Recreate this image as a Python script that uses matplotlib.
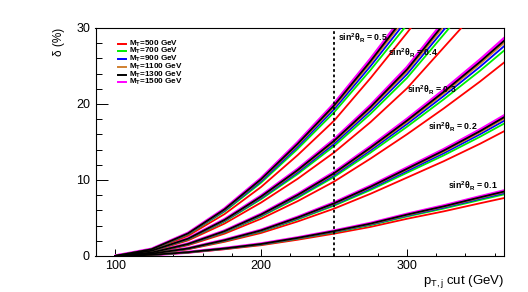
import matplotlib
matplotlib.use("Agg")
import matplotlib.pyplot as plt
from matplotlib.lines import Line2D
from matplotlib.ticker import MultipleLocator

plt.rcParams['font.family'] = ['Liberation Sans', 'DejaVu Sans']
plt.rcParams['mathtext.fontset'] = 'custom'
plt.rcParams['mathtext.rm'] = 'Liberation Sans'
plt.rcParams['mathtext.it'] = 'Liberation Sans:italic'
plt.rcParams['mathtext.bf'] = 'Liberation Sans:bold'

# ---------------- data ----------------
pt_cut = [100, 125, 150, 175, 200, 225, 250, 275, 300, 325, 350, 367]

masses = ["500", "700", "900", "1100", "1300", "1500"]
mass_colors = ["#ff0000", "#00ee00", "#0000ff", "#d08030", "#000000", "#ff00ff"]

sin2_labels = ["0.1", "0.2", "0.3", "0.4", "0.5"]

# delta (%) for sin^2 theta_R = 0.1, per mass
d01_500  = [0, 0.13, 0.45, 0.89, 1.42, 2.14, 2.94, 3.83, 4.90, 5.87, 6.94, 7.65]
d01_700  = [0, 0.14, 0.47, 0.95, 1.51, 2.27, 3.12, 4.06, 5.20, 6.24, 7.37, 8.13]
d01_900  = [0, 0.14, 0.48, 0.97, 1.54, 2.32, 3.18, 4.15, 5.31, 6.37, 7.53, 8.30]
d01_1100 = [0, 0.15, 0.49, 0.98, 1.57, 2.35, 3.23, 4.21, 5.39, 6.47, 7.64, 8.43]
d01_1300 = [0, 0.15, 0.50, 0.99, 1.58, 2.38, 3.27, 4.26, 5.45, 6.53, 7.72, 8.51]
d01_1500 = [0, 0.15, 0.50, 1.00, 1.60, 2.40, 3.30, 4.30, 5.50, 6.60, 7.80, 8.60]

# sin^2 theta_R = 0.2
d02_500  = [0, 0.27, 0.89, 1.87, 3.03, 4.54, 6.23, 8.19, 10.32, 12.46, 14.77, 16.47]
d02_700  = [0, 0.28, 0.95, 1.98, 3.21, 4.82, 6.62, 8.69, 10.96, 13.23, 15.69, 17.48]
d02_900  = [0, 0.29, 0.97, 2.03, 3.28, 4.92, 6.76, 8.88, 11.19, 13.51, 16.02, 17.85]
d02_1100 = [0, 0.29, 0.98, 2.06, 3.33, 5.00, 6.86, 9.02, 11.37, 13.72, 16.27, 18.13]
d02_1300 = [0, 0.30, 0.99, 2.08, 3.37, 5.05, 6.93, 9.11, 11.48, 13.86, 16.43, 18.32]
d02_1500 = [0, 0.30, 1.00, 2.10, 3.40, 5.10, 7.00, 9.20, 11.60, 14.00, 16.60, 18.50]

# sin^2 theta_R = 0.3
d03_500  = [0, 0.40, 1.42, 2.94, 4.90, 7.21, 9.79, 12.82, 16.02, 19.40, 22.96, 25.54]
d03_700  = [0, 0.43, 1.51, 3.12, 5.20, 7.65, 10.40, 13.61, 17.01, 20.60, 24.38, 27.12]
d03_900  = [0, 0.43, 1.54, 3.18, 5.31, 7.82, 10.62, 13.90, 17.37, 21.04, 24.90, 27.70]
d03_1100 = [0, 0.44, 1.57, 3.23, 5.39, 7.94, 10.78, 14.11, 17.64, 21.36, 25.28, 28.13]
d03_1300 = [0, 0.45, 1.58, 3.27, 5.45, 8.02, 10.89, 14.26, 17.82, 21.58, 25.54, 28.41]
d03_1500 = [0, 0.45, 1.60, 3.30, 5.50, 8.10, 11.00, 14.40, 18.00, 21.80, 25.80, 28.70]

# sin^2 theta_R = 0.4
d04_500  = [0, 0.62, 2.05, 4.27, 7.03, 10.15, 13.62, 17.62, 22.07, 27.41, 32.75, 36.49]
d04_700  = [0, 0.66, 2.17, 4.54, 7.47, 10.77, 14.46, 18.71, 23.44, 29.11, 34.78, 38.75]
d04_900  = [0, 0.68, 2.22, 4.63, 7.62, 11.00, 14.76, 19.11, 23.93, 29.72, 35.51, 39.57]
d04_1100 = [0, 0.69, 2.25, 4.70, 7.74, 11.17, 14.99, 19.40, 24.30, 30.18, 36.06, 40.18]
d04_1300 = [0, 0.69, 2.28, 4.75, 7.82, 11.29, 15.15, 19.60, 24.55, 30.49, 36.43, 40.59]
d04_1500 = [0, 0.70, 2.30, 4.80, 7.90, 11.40, 15.30, 19.80, 24.80, 30.80, 36.80, 41.00]

# sin^2 theta_R = 0.5
d05_500  = [0, 0.80, 2.67, 5.52, 9.08, 13.26, 17.80, 23.41, 29.37, 35.60, 41.83, 46.28]
d05_700  = [0, 0.85, 2.84, 5.86, 9.64, 14.08, 18.90, 24.48, 30.43, 37.80, 44.42, 49.14]
d05_900  = [0, 0.87, 2.90, 5.98, 9.84, 14.38, 19.30, 24.99, 31.07, 38.60, 45.36, 50.18]
d05_1100 = [0, 0.88, 2.94, 6.08, 10.00, 14.60, 19.60, 25.38, 31.56, 39.20, 46.06, 50.96]
d05_1300 = [0, 0.89, 2.97, 6.14, 10.10, 14.75, 19.80, 25.64, 31.88, 39.60, 46.53, 51.48]
d05_1500 = [0, 0.90, 3.00, 6.20, 10.20, 14.90, 20.00, 25.90, 32.20, 40.00, 47.00, 52.00]

groups = [
    [d01_500, d01_700, d01_900, d01_1100, d01_1300, d01_1500],
    [d02_500, d02_700, d02_900, d02_1100, d02_1300, d02_1500],
    [d03_500, d03_700, d03_900, d03_1100, d03_1300, d03_1500],
    [d04_500, d04_700, d04_900, d04_1100, d04_1300, d04_1500],
    [d05_500, d05_700, d05_900, d05_1100, d05_1300, d05_1500],
]

cut_line = 250

# ---------------- figure ----------------
W, H = 528, 292
fig = plt.figure(figsize=(W / 100, H / 100), dpi=100)
L, R, T, B = 95.5, 504.0, 28.0, 256.0
ax = fig.add_axes([L / W, (H - B) / H, (R - L) / W, (B - T) / H])

for grp in groups:
    # magenta (1500) drawn first, slightly thicker, then the others
    ax.plot(pt_cut, grp[5], color=mass_colors[5], lw=2.3, solid_capstyle='butt', zorder=2)
    for i in range(5):
        ax.plot(pt_cut, grp[i], color=mass_colors[i], lw=1.3, zorder=3 + i)

ax.axvline(cut_line, color='black', lw=1.3, ls=(0, (1.5, 1.5)), zorder=10)

ax.set_xlim(86.6, 366.4)
ax.set_ylim(0, 30)
ax.xaxis.set_major_locator(MultipleLocator(100))
ax.xaxis.set_minor_locator(MultipleLocator(20))
ax.yaxis.set_major_locator(MultipleLocator(10))
ax.yaxis.set_minor_locator(MultipleLocator(2))
ax.tick_params(axis='x', which='major', direction='in', length=4.9, width=0.7, pad=3, labelsize=9)
ax.tick_params(axis='x', which='minor', direction='in', length=2.4, width=0.7)
ax.tick_params(axis='y', which='major', direction='in', length=8.8, width=0.7, pad=4, labelsize=9)
ax.tick_params(axis='y', which='minor', direction='in', length=4.4, width=0.7)
ax.tick_params(top=False, right=False, which='both')
for s in ax.spines.values():
    s.set_linewidth(0.8)

ax.set_xlabel(r"p$_{\mathrm{T,j}}$ cut (GeV)", fontsize=9.5, loc='right')
ax.xaxis.set_label_coords(1.0, -0.075)
ax.set_ylabel("δ (%)", fontsize=8.5, loc='top')
ax.yaxis.set_label_coords(-0.075, 1.0)

# legend (manual, ROOT-like)
leg_y = [0.932, 0.898, 0.864, 0.830, 0.796, 0.762]
for k, (m, c) in enumerate(zip(masses, mass_colors)):
    ax.add_line(Line2D([0.055, 0.075], [leg_y[k], leg_y[k]], transform=ax.transAxes,
                       color=c, lw=1.4, zorder=20))
    ax.text(0.082, leg_y[k], r"M$_{\mathbf{T}}$=" + m + " GeV", transform=ax.transAxes,
            fontsize=5.9, fontweight='bold', va='center', ha='left', zorder=20)

# sin^2 theta_R annotations
ann_pos = [(0.863, 0.307), (0.814, 0.566), (0.763, 0.728), (0.716, 0.890), (0.593, 0.956)]
for lab, (xx, yy) in zip(sin2_labels, ann_pos):
    ax.text(xx, yy, r"sin$^{\mathbf{2}}$θ$_{\mathbf{R}}$ = " + lab, transform=ax.transAxes,
            fontsize=6.3, fontweight='bold', va='center', ha='left', zorder=20)

fig.savefig("out.png", dpi=100)
